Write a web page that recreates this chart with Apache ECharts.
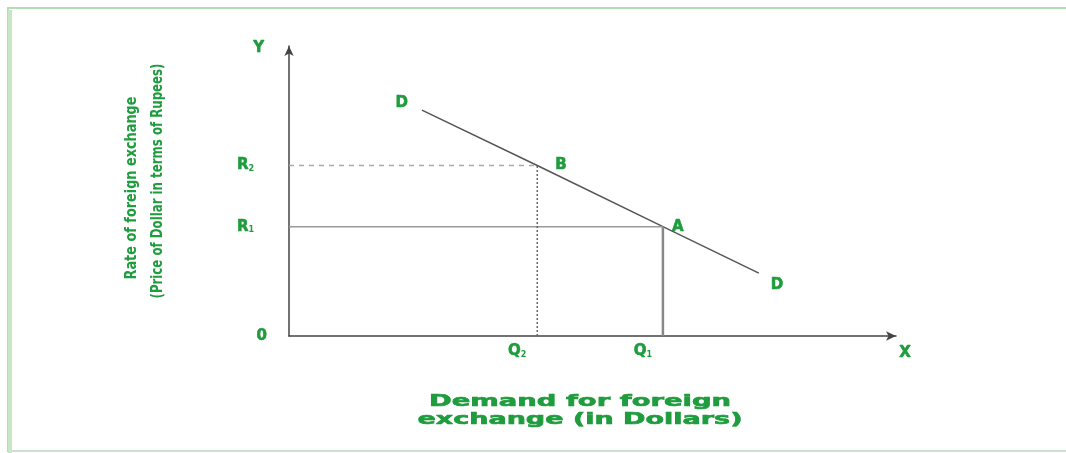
<!DOCTYPE html>
<html>
<head>
<meta charset="utf-8">
<script src="https://cdn.jsdelivr.net/npm/echarts@6/dist/echarts.min.js"></script>
<style>
html,body{margin:0;padding:0;background:#fff;}
#main{width:1066px;height:453px;}
</style>
</head>
<body>
<div id="main"></div>
<script>
// demand curve DD (B and A lie on it)
var demandX = [21.9, 40.9, 61.6, 77.4];
var demandY = [77.9, 58.8, 37.7, 21.7];
// quantities and rates
var qValues = [40.9, 61.6];
var qNames = ['Q2', 'Q1'];
var rValues = [0, 37.7, 58.8];
var rNames = ['0', 'R1', 'R2'];
// point labels
var pointNames = ['D', 'B', 'A', 'D'];

var green = '#1f9c3d';
var titleFont = 'bold 15px "DejaVu Sans"';

// stretch text to a given width (the original uses a wide / narrow face)
var ctx = document.createElement('canvas').getContext('2d');
function fitScale(text, font, width){
    ctx.font = font;
    return width / ctx.measureText(text).width;
}

function sub(s){
    if (s.length < 2) return '{z|' + s + '}';
    return '{a|' + s.charAt(0) + '}{b|' + s.substring(1) + '}';
}

var demandData = [];
for (var i = 0; i < demandX.length; i++) demandData.push([demandX[i], demandY[i]]);

var labelCfg = [
    {position: 'left', distance: 14, offset: [0, -7]},
    {position: 'right', distance: 18, offset: [0, 0]},
    {position: 'right', distance: 9, offset: [0, 0]},
    {position: 'right', distance: 12, offset: [0, 12]}
];
var pointData = [];
for (var i = 0; i < demandX.length; i++) {
    pointData.push({
        value: [demandX[i], demandY[i]],
        name: pointNames[i],
        label: labelCfg[i]
    });
}

var lbl = {fontFamily: 'DejaVu Sans', fontWeight: 'bold', fontSize: 15, color: green,
    textBorderColor: green, textBorderWidth: 0.6};
var richR = {
    a: lbl,
    b: {fontFamily: 'DejaVu Sans', fontWeight: 'bold', fontSize: 8, color: green, padding: [6, 0, 0, 0]},
    z: lbl
};

var yLines = ['Rate of foreign exchange', '(Price of Dollar in terms of Rupees)'];
var xLines = ['Demand for foreign', 'exchange (in Dollars)'];

var chart = echarts.init(document.getElementById('main'));
chart.setOption({
    animation: false,
    grid: {left: 289, right: 170, top: 46, bottom: 117},
    xAxis: {
        type: 'value', min: 0, max: 100,
        splitLine: {show: false},
        axisLine: {show: true, symbol: ['none', 'arrow'], symbolSize: [7, 10], lineStyle: {color: '#444', width: 1.5}},
        axisTick: {show: false},
        axisLabel: {
            customValues: qValues,
            margin: 8,
            padding: [0, 40, 0, 0],
            formatter: function (v) { return sub(qNames[qValues.indexOf(v)]); },
            rich: richR
        },
        name: 'X', nameLocation: 'end', nameGap: 9,
        nameTextStyle: echarts.util.extend({align: 'center', verticalAlign: 'top', padding: [10, 0, 0, 0]}, lbl)
    },
    yAxis: {
        type: 'value', min: 0, max: 100,
        splitLine: {show: false},
        axisLine: {show: true, symbol: ['none', 'arrow'], symbolSize: [7, 10], lineStyle: {color: '#444', width: 1.5}},
        axisTick: {show: false},
        axisLabel: {
            customValues: rValues,
            margin: 22,
            formatter: function (v) {
                var n = rNames[rValues.indexOf(v)];
                return n === '0' ? '{z|0}' : '{a|' + n.charAt(0) + '}{b|' + n.substring(1) + '}{p|}';
            },
            rich: {
                a: richR.a, b: richR.b, z: richR.z,
                p: {width: 13}
            }
        },
        name: 'Y', nameLocation: 'end', nameGap: -2,
        nameTextStyle: echarts.util.extend({align: 'right', verticalAlign: 'middle', padding: [0, 25, 0, 0]}, lbl)
    },
    series: [
        {
            type: 'line', data: demandData, symbol: 'none', clip: false,
            lineStyle: {color: '#555', width: 1.5}
        },
        { // R1 to A
            type: 'line', data: [[0, demandY[2]], [demandX[2], demandY[2]]], symbol: 'none',
            lineStyle: {color: '#999', width: 1.5}
        },
        { // A down to Q1
            type: 'line', data: [[demandX[2], 0], [demandX[2], demandY[2]]], symbol: 'none',
            lineStyle: {color: '#888', width: 2.5}
        },
        { // R2 to B
            type: 'line', data: [[0, demandY[1]], [demandX[1], demandY[1]]], symbol: 'none',
            lineStyle: {color: '#aaa', width: 1.5, type: [5, 5]}
        },
        { // B down to Q2
            type: 'line', data: [[demandX[1], 0], [demandX[1], demandY[1]]], symbol: 'none',
            lineStyle: {color: '#666', width: 1.5, type: [2, 2]}
        },
        {
            type: 'scatter', data: pointData, symbolSize: 0, clip: false,
            itemStyle: {opacity: 1},
            label: echarts.util.extend({show: true, formatter: '{b}'}, lbl)
        }
    ],
    graphic: [
        {type: 'rect', shape: {x: 8, y: 8, width: 1070, height: 443}, silent: true,
            style: {fill: 'none', stroke: '#b3ddb5', lineWidth: 2}},
        {type: 'line', shape: {x1: 10, y1: 10, x2: 10, y2: 453}, silent: true,
            style: {stroke: '#c6e6c6', lineWidth: 4}},
        {type: 'line', shape: {x1: 10, y1: 451, x2: 1066, y2: 451}, silent: true,
            style: {stroke: '#e6e6e6', lineWidth: 1}},
        {type: 'text', x: 132, y: 188, rotation: Math.PI / 2, silent: true,
            scaleX: fitScale(yLines[0], titleFont, 183),
            style: {text: yLines[0], fill: green, font: titleFont,
                textAlign: 'center', textVerticalAlign: 'middle'}},
        {type: 'text', x: 158, y: 181, rotation: Math.PI / 2, silent: true,
            scaleX: fitScale(yLines[1], titleFont, 235),
            style: {text: yLines[1], fill: green, font: titleFont,
                textAlign: 'center', textVerticalAlign: 'middle'}},
        {type: 'text', x: 580, y: 402, silent: true,
            scaleX: fitScale(xLines[0], titleFont, 302),
            style: {text: xLines[0], fill: green, font: titleFont, stroke: green, lineWidth: 0.6,
                textAlign: 'center', textVerticalAlign: 'middle'}},
        {type: 'text', x: 580, y: 420, silent: true,
            scaleX: fitScale(xLines[1], titleFont, 325),
            style: {text: xLines[1], fill: green, font: titleFont, stroke: green, lineWidth: 0.6,
                textAlign: 'center', textVerticalAlign: 'middle'}}
    ]
});
</script>
</body>
</html>
